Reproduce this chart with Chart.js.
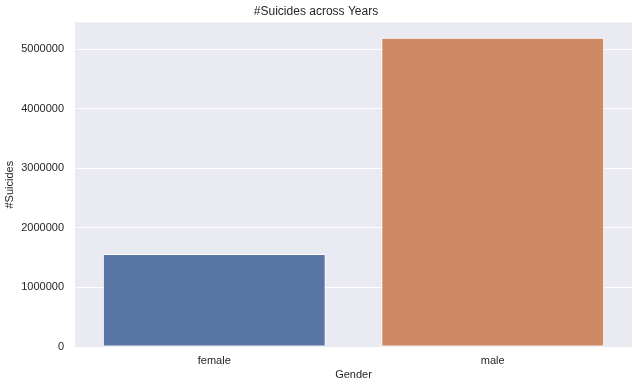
<!DOCTYPE html>
<html>
<head>
<meta charset="utf-8">
<script src="https://cdn.jsdelivr.net/npm/chart.js@4"></script>
<style>
html,body{margin:0;padding:0;background:#fff;}
#wrap{width:638px;height:388px;}
</style>
</head>
<body>
<div id="wrap"><canvas id="myChart" width="638" height="388"></canvas></div>
<script>
var genders = ["female", "male"];
var suicides = [1559510, 5188910];
var barColors = ["#5975a4", "#cc8963"];
var yTicks = [0, 1000000, 2000000, 3000000, 4000000, 5000000];

// grey panel behind the bars, seaborn darkgrid style
var panelBg = {
  id: "panelBg",
  beforeDraw: function(chart){
    var a = chart.chartArea, c = chart.ctx;
    c.save();
    c.fillStyle = "#eaeaf2";
    c.fillRect(a.left, a.top, a.right - a.left, a.bottom - a.top);
    c.restore();
  }
};

var ctx = document.getElementById("myChart").getContext("2d");
var myChart = new Chart(ctx, {
  type: "bar",
  data: {
    labels: genders,
    datasets: [{
      label: "#Suicides",
      data: suicides,
      backgroundColor: barColors,
      borderColor: "#ffffff",
      borderWidth: 1,
      borderSkipped: false,
      barPercentage: 0.8,
      categoryPercentage: 1.0
    }]
  },
  options: {
    responsive: false,
    animation: false,
    layout: {padding: {left: 0, right: 6, top: 0, bottom: 0}},
    plugins: {
      legend: {display: false},
      tooltip: {enabled: false},
      title: {
        display: true,
        text: "#Suicides across Years",
        color: "#262626",
        font: {family: "Arial, 'Liberation Sans', sans-serif", size: 12, weight: "normal"},
        padding: {top: 4, bottom: 4}
      }
    },
    scales: {
      x: {
        grid: {display: false, drawTicks: false},
        border: {display: false},
        ticks: {color: "#262626", padding: 7, font: {family: "Arial, 'Liberation Sans', sans-serif", size: 11}},
        title: {display: true, text: "Gender", color: "#262626", padding: {top: 2, bottom: 6},
          font: {family: "Arial, 'Liberation Sans', sans-serif", size: 11}},
        afterFit: function(s){ s.height = 41; }
      },
      y: {
        min: 0,
        max: 5448000,
        afterBuildTicks: function(s){ s.ticks = yTicks.map(function(v){ return {value: v}; }); },
        grid: {color: "#ffffff", lineWidth: 1, drawTicks: false},
        border: {display: false},
        ticks: {color: "#262626", padding: 11, font: {family: "Arial, 'Liberation Sans', sans-serif", size: 11},
          callback: function(v){ return String(v); }},
        title: {display: true, text: "#Suicides", color: "#262626", padding: {top: 3, bottom: 0},
          font: {family: "Arial, 'Liberation Sans', sans-serif", size: 11}},
        afterFit: function(s){ s.width = 75; }
      }
    }
  },
  plugins: [panelBg]
});
</script>
</body>
</html>
